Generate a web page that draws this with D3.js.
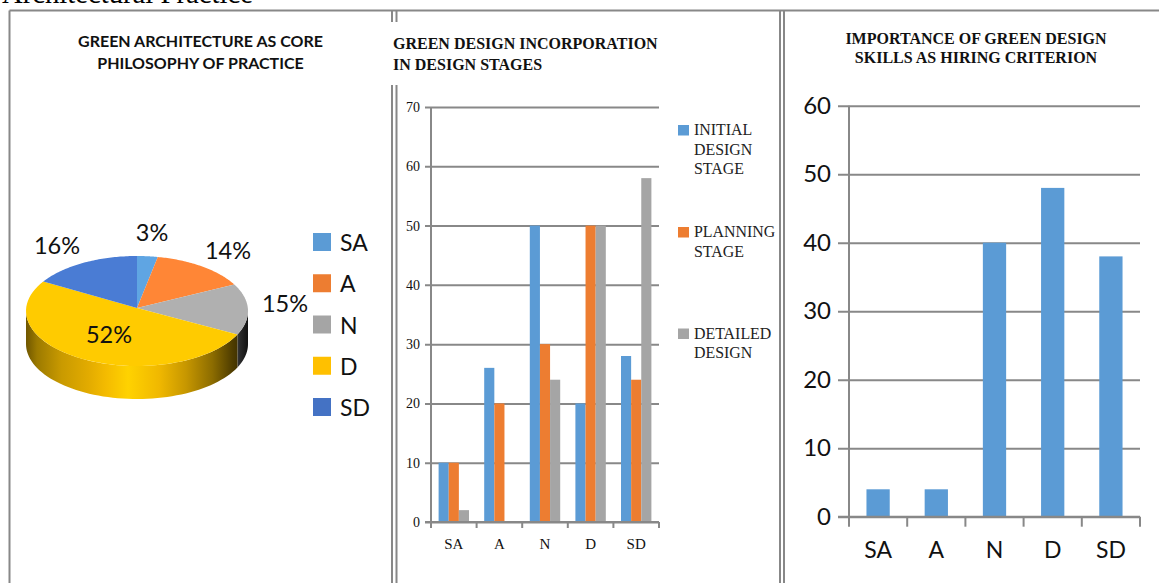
<!DOCTYPE html>
<html>
<head>
<meta charset="utf-8">
<title>Green design survey charts</title>
<script src="https://cdn.jsdelivr.net/npm/d3@7"></script>
<style>
  html, body { margin: 0; padding: 0; background: #fff; overflow: hidden; }
  svg { display: block; }
</style>
</head>
<body>
<svg id="figure" width="1159" height="583"></svg>
<script>
// Survey responses on the five-point scale
const categories = ["SA", "A", "N", "D", "SD"];

// Green architecture as core philosophy (percent)
const philosophyShare = [3, 14, 15, 52, 16];

// Green design incorporation by stage
const initialDesign = [10, 26, 50, 20, 28];
const planningStage = [10, 20, 30, 50, 24];
const detailedDesign = [2, 0, 24, 50, 58];
const stageNames = [["INITIAL", "DESIGN", "STAGE"], ["PLANNING", "STAGE"], ["DETAILED", "DESIGN"]];

// Green design skills as hiring criterion
const hiringImportance = [4, 4, 40, 48, 38];

const stageTicks = [0, 10, 20, 30, 40, 50, 60, 70];
const hiringTicks = [0, 10, 20, 30, 40, 50, 60];

const BLUE = "#5b9bd5", ORANGE = "#ed7d31", GREY = "#a5a5a5", YELLOW = "#ffc000", NAVY = "#4472c4";
const RULE = "#888888";
const SANS = "Lato, 'Open Sans', sans-serif";
const SERIF = "'Liberation Serif', 'Times New Roman', serif";

const svg = d3.select("#figure");
svg.append("rect").attr("width", 1159).attr("height", 583).attr("fill", "#fff");

// Heading line running above the figure
svg.append("text").attr("x", 2).attr("y", 3)
  .attr("font-family", SERIF).attr("font-size", 28.7).attr("fill", "#000")
  .text("Architectural Practice");

// Table rules around the three panels
const rules = [
  [9.5, 10.5, 9.5, 583], [9.5, 10.5, 1159, 10.5],
  [392, 10.5, 392, 22], [396.5, 10.5, 396.5, 22],
  [392, 85, 392, 583], [396.5, 85, 396.5, 583],
  [780, 10.5, 780, 583], [784, 10.5, 784, 583]
];
svg.append("g").selectAll("line").data(rules).join("line")
  .attr("x1", d => d[0]).attr("y1", d => d[1]).attr("x2", d => d[2]).attr("y2", d => d[3])
  .attr("stroke", RULE).attr("stroke-width", 2);

function titleLines(lines, x, baselines, anchor, family, size) {
  svg.append("g").selectAll("text").data(lines).join("text")
    .attr("x", x).attr("y", (d, i) => baselines[i])
    .attr("text-anchor", anchor).attr("font-family", family)
    .attr("font-weight", 700).attr("font-size", size).attr("fill", "#111")
    .text(d => d);
}

/* ---------- Panel 1: tilted pie ---------- */
titleLines(["GREEN ARCHITECTURE AS CORE", "PHILOSOPHY OF PRACTICE"], 200.5, [47, 69], "middle", SANS, 16);

const pieColors = ["#5fa5e3", "#ff8636", "#b0b0b0", "#ffcb00", "#4a7cd4"];
const pieCx = 137, pieCy = 311, apexY = 308, pieRx = 111, pieRy = 55, pieDepth = 33;
const rimPoint = (a, drop = 0) => [pieCx + pieRx * Math.sin(a), pieCy - pieRy * Math.cos(a) + drop];
const arcAngles = (a0, a1) => d3.range(0, 61).map(i => a0 + (a1 - a0) * i / 60);
const slices = d3.pie().sort(null)(philosophyShare);
const outline = d3.line();

const defs = svg.append("defs");
const rimShade = defs.append("linearGradient").attr("id", "rimShade")
  .attr("gradientUnits", "userSpaceOnUse")
  .attr("x1", pieCx - pieRx).attr("x2", pieCx + pieRx).attr("y1", 0).attr("y2", 0);
[[0, "#6f5600"], [0.05, "#9c7a00"], [0.16, "#c99a00"], [0.28, "#e2ab00"], [0.36, "#f4bb00"],
 [0.46, "#ffd200"], [0.6, "#f0b800"], [0.72, "#c79700"], [0.84, "#8c6c00"], [0.93, "#4f3d00"], [1, "#2a2000"]]
  .forEach(([o, c]) => rimShade.append("stop").attr("offset", o).attr("stop-color", c));
const rimDark = defs.append("linearGradient").attr("id", "rimDark")
  .attr("gradientUnits", "userSpaceOnUse")
  .attr("x1", pieCx + 95).attr("x2", pieCx + pieRx).attr("y1", 0).attr("y2", 0);
[[0, "#555"], [0.5, "#2a2a2a"], [1, "#111"]]
  .forEach(([o, c]) => rimDark.append("stop").attr("offset", o).attr("stop-color", c));

// Visible side wall: the portion of each slice facing the viewer
const frontStart = Math.PI / 2, frontEnd = 3 * Math.PI / 2;
const rimParts = slices
  .map(s => ({ i: s.index, a0: Math.max(s.startAngle, frontStart), a1: Math.min(s.endAngle, frontEnd) }))
  .filter(p => p.a1 > p.a0);
svg.append("g").selectAll("path").data(rimParts).join("path")
  .attr("d", p => outline([
    ...arcAngles(p.a0, p.a1).map(a => rimPoint(a)),
    ...arcAngles(p.a1, p.a0).map(a => rimPoint(a, pieDepth))
  ]) + "Z")
  .attr("fill", p => p.i === 3 ? "url(#rimShade)" : "url(#rimDark)");

// Top face of the pie
svg.append("g").selectAll("path").data(slices).join("path")
  .attr("d", s => outline([[pieCx, apexY], ...arcAngles(s.startAngle, s.endAngle).map(a => rimPoint(a))]) + "Z")
  .attr("fill", (s, i) => pieColors[i]);

// Percentage labels
const pieLabelSpots = [[152, 241], [228, 259], [285, 312], [109, 343], [57, 254]];
svg.append("g").selectAll("text").data(philosophyShare).join("text")
  .attr("x", (d, i) => pieLabelSpots[i][0]).attr("y", (d, i) => pieLabelSpots[i][1])
  .attr("text-anchor", "middle").attr("font-family", SANS).attr("font-size", 23.5).attr("fill", "#111")
  .text(d => d + "%");

// Legend
const pieLegendColors = [BLUE, ORANGE, GREY, YELLOW, NAVY];
const pieLegendY = d3.scalePoint().domain(categories).range([233, 398]);
const pieLegend = svg.append("g").selectAll("g").data(categories).join("g")
  .attr("transform", d => `translate(313,${pieLegendY(d)})`);
pieLegend.append("rect").attr("width", 18).attr("height", 18).attr("fill", (d, i) => pieLegendColors[i]);
pieLegend.append("text").attr("x", 27).attr("y", 18)
  .attr("font-family", SANS).attr("font-size", 23).attr("fill", "#111").text(d => d);

/* ---------- Shared helpers for the bar panels ---------- */
function drawValueAxis(y, ticks, tickX, plotRight, fontFamily, fontSize, padding) {
  const g = svg.append("g").attr("transform", `translate(${tickX},0)`)
    .call(d3.axisLeft(y).tickValues(ticks).tickSizeInner(-(plotRight - tickX)).tickSizeOuter(0).tickPadding(padding));
  g.select(".domain").remove();
  g.selectAll("line").attr("stroke", RULE).attr("stroke-width", 2);
  g.selectAll("text").attr("font-family", fontFamily).attr("font-size", fontSize).attr("fill", "#111");
}

function drawCategoryAxis(x, axisY, tickLen, labelGap, fontFamily, fontSize) {
  const [left, right] = x.range();
  const edges = categories.map((c, i) => left + i * x.step()).concat(right);
  svg.append("g").selectAll("line").data(edges).join("line")
    .attr("x1", d => d).attr("x2", d => d).attr("y1", axisY).attr("y2", axisY + tickLen)
    .attr("stroke", RULE).attr("stroke-width", 2);
  const g = svg.append("g").attr("transform", `translate(0,${axisY})`)
    .call(d3.axisBottom(x).tickSize(0).tickPadding(labelGap));
  g.select(".domain").remove();
  g.selectAll("text").attr("font-family", fontFamily).attr("font-size", fontSize).attr("fill", "#111");
}

/* ---------- Panel 2: grouped bars ---------- */
titleLines(["GREEN DESIGN INCORPORATION", "IN DESIGN STAGES"], 393, [49, 70], "start", SERIF, 16);

const stageSeries = [initialDesign, planningStage, detailedDesign];
const stageColors = [BLUE, ORANGE, GREY];
const stageX = d3.scaleBand().domain(categories).range([431, 659]).paddingInner(1 / 3).paddingOuter(1 / 6);
const stageInner = d3.scaleBand().domain([0, 1, 2]).range([0, stageX.bandwidth()]);
const stageY = d3.scaleLinear().domain([0, 70]).range([522, 107]);

drawValueAxis(stageY, stageTicks, 425, 659, SERIF, 14, 5);
svg.append("line").attr("x1", 431).attr("x2", 431).attr("y1", stageY(70)).attr("y2", stageY(0))
  .attr("stroke", RULE).attr("stroke-width", 2);

svg.append("g").selectAll("g").data(stageSeries).join("g")
  .attr("fill", (d, i) => stageColors[i])
  .attr("transform", (d, i) => `translate(${stageInner(i)},0)`)
  .selectAll("rect").data(d => d.map((v, i) => ({ v, c: categories[i] }))).join("rect")
  .attr("x", d => stageX(d.c)).attr("width", stageInner.bandwidth())
  .attr("y", d => stageY(d.v)).attr("height", d => stageY(0) - stageY(d.v));

svg.append("line").attr("x1", 425).attr("x2", 659).attr("y1", stageY(0)).attr("y2", stageY(0))
  .attr("stroke", RULE).attr("stroke-width", 2);
drawCategoryAxis(stageX, stageY(0), 6, 16, SERIF, 15);

// Legend with wrapped entries
const stageLegendTop = [125, 227, 328.5];
const stageLegend = svg.append("g").selectAll("g").data(stageNames).join("g")
  .attr("transform", (d, i) => `translate(678,${stageLegendTop[i]})`);
stageLegend.append("rect").attr("width", 11).attr("height", 10.5).attr("fill", (d, i) => stageColors[i]);
stageLegend.selectAll("text").data(d => d).join("text")
  .attr("x", 16).attr("y", (d, i) => 10 + i * 19.5)
  .attr("font-family", SERIF).attr("font-size", 15.9).attr("fill", "#222").text(d => d);

/* ---------- Panel 3: single series bars ---------- */
titleLines(["IMPORTANCE OF GREEN DESIGN", "SKILLS AS HIRING CRITERION"], 976, [44, 63], "middle", SERIF, 16);

const hiringX = d3.scaleBand().domain(categories).range([849, 1140]).paddingInner(0.6).paddingOuter(0.3);
const hiringY = d3.scaleLinear().domain([0, 60]).range([516.7, 105.7]);

drawValueAxis(hiringY, hiringTicks, 838, 1140, SANS, 24, 7);
svg.append("line").attr("x1", 849).attr("x2", 849).attr("y1", hiringY(60)).attr("y2", hiringY(0))
  .attr("stroke", RULE).attr("stroke-width", 2);

svg.append("g").selectAll("rect").data(hiringImportance).join("rect")
  .attr("x", (d, i) => hiringX(categories[i])).attr("width", hiringX.bandwidth())
  .attr("y", d => hiringY(d)).attr("height", d => hiringY(0) - hiringY(d))
  .attr("fill", BLUE);

svg.append("line").attr("x1", 838).attr("x2", 1140).attr("y1", hiringY(0)).attr("y2", hiringY(0))
  .attr("stroke", RULE).attr("stroke-width", 2);
drawCategoryAxis(hiringX, hiringY(0), 10, 25, SANS, 23);
</script>
</body>
</html>
